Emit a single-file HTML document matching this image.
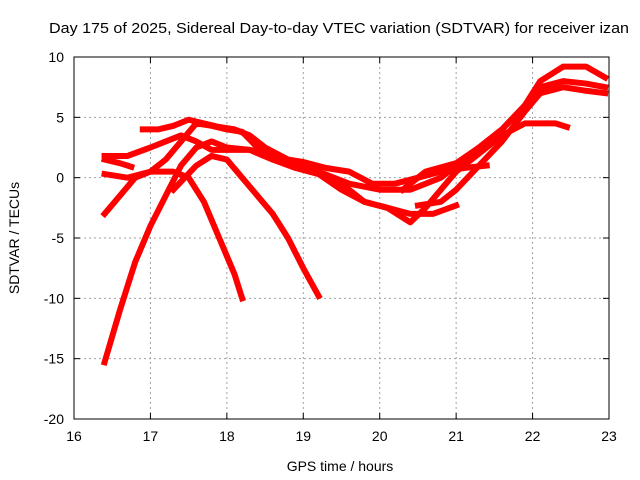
<!DOCTYPE html>
<html><head><meta charset="utf-8"><style>body{margin:0;background:#fff}svg{display:block;font-family:"Liberation Sans",sans-serif}</style></head>
<body>
<svg id="c" width="640" height="480" xmlns="http://www.w3.org/2000/svg">
<rect width="640" height="480" fill="#fff"/>
<text x="339" y="33" font-size="15" text-anchor="middle" textLength="580" lengthAdjust="spacingAndGlyphs">Day 175 of 2025, Sidereal Day-to-day VTEC variation (SDTVAR) for receiver izan</text>
<text x="340" y="471" font-size="14" text-anchor="middle">GPS time / hours</text>
<text transform="translate(19,238) rotate(-90)" font-size="14" text-anchor="middle">SDTVAR / TECUs</text>
<g id="grid"></g><g id="ticks"></g><g id="series"></g>
<rect x="74" y="57" width="535" height="362" fill="none" stroke="#000"/>
</svg>
<script>
const xTicks=[16,17,18,19,20,21,22,23];
const yTicks=[-20,-15,-10,-5,0,5,10];
const s1=[[16.4,-15.3],[16.6,-11],[16.8,-7],[17.0,-4],[17.2,-1.5],[17.4,1],[17.6,2.5],[17.8,3],[18.0,2.5],[18.3,2.3],[18.6,2],[18.9,1],[19.2,0.5],[19.6,-0.5],[20.0,-1],[20.4,-1],[20.8,0],[21.0,1],[21.3,2.5],[21.6,4],[21.9,6],[22.1,8],[22.4,9.2],[22.7,9.2],[22.95,8.3]];
const s2=[[16.4,-3],[16.6,-1.5],[16.8,0],[17.0,0.5],[17.3,0.5],[17.5,0],[17.7,-2],[17.9,-5],[18.1,-8],[18.2,-10]];
const s3=[[16.4,0.3],[16.7,0],[17.0,0.5],[17.2,1.5],[17.4,3],[17.6,4.5],[17.8,4.3],[18.0,4],[18.2,3.8],[18.4,2.5],[18.6,1.5],[18.9,0.8],[19.2,0.3],[19.5,-1],[19.8,-2],[20.1,-2.5],[20.4,-3],[20.7,-3],[21.0,-2.3]];
const s4=[[16.4,1.5],[16.6,1.2],[16.75,0.9]];
const s5=[[16.4,1.8],[16.7,1.8],[17.0,2.5],[17.2,3],[17.4,3.5],[17.6,3],[17.8,2.3],[18.0,2.3],[18.3,2.3],[18.6,1.5],[18.9,1],[19.2,0.3],[19.5,-0.5],[19.8,-2],[20.1,-2.5],[20.4,-3.7],[20.6,-2.5],[20.8,-1],[21.0,0.5],[21.3,2],[21.6,3.5],[21.9,4.5],[22.1,4.5],[22.3,4.5],[22.45,4.2]];
const s6=[[16.9,4],[17.1,4],[17.3,4.3],[17.5,4.8],[17.7,4.5],[17.9,4.2],[18.1,4],[18.3,3.5],[18.5,2.5],[18.8,1.5],[19.0,1.3],[19.3,0.8],[19.6,0.5],[19.9,-0.5],[20.2,-0.5],[20.5,0],[20.8,0.5],[21.1,0.8],[21.4,1]];
const s7=[[17.3,-1],[17.6,1],[17.8,1.8],[18.0,1.5],[18.2,0],[18.4,-1.5],[18.6,-3],[18.8,-5],[19.0,-7.5],[19.2,-9.8]];
const s8=[[20.5,-2.3],[20.8,-2],[21.0,-1],[21.3,1],[21.6,3],[21.9,5.5],[22.1,7],[22.4,7.5],[22.7,7.2],[22.95,7]];
const s9=[[20.3,-1],[20.6,0.5],[21.0,1.2],[21.3,2.5],[21.6,4],[21.9,6],[22.1,7.5],[22.4,8],[22.7,7.8],[22.95,7.5]];
const seriesList=[s1,s2,s3,s4,s5,s6,s7,s8,s9];
const X=h=>74+(h-16)*535/7, Y=v=>57+(10-v)*362/30;
const NS="http://www.w3.org/2000/svg";
function mk(t,a,p){const e=document.createElementNS(NS,t);for(const k in a)e.setAttribute(k,a[k]);p.appendChild(e);return e;}
const g=document.getElementById('grid'),tk=document.getElementById('ticks'),sg=document.getElementById('series');
xTicks.forEach(v=>{
 if(v>16&&v<23){const l=mk('line',{x1:X(v),x2:X(v),y1:57,y2:419,stroke:'#a0a0a0','stroke-dasharray':'2,3'},g);
 
 }
 mk('line',{x1:X(v),x2:X(v),y1:419,y2:413,stroke:'#000'},tk);mk('line',{x1:X(v),x2:X(v),y1:57,y2:63,stroke:'#000'},tk);
 const t=mk('text',{x:X(v),y:441,'font-size':14,'text-anchor':'middle'},tk);t.textContent=v;
 
 
});
yTicks.forEach(v=>{
 if(v>-20&&v<10){const l=mk('line',{x1:74,x2:609,y1:Y(v),y2:Y(v),stroke:'#a0a0a0','stroke-dasharray':'2,3'},g);
 
 }
 mk('line',{x1:74,x2:80,y1:Y(v),y2:Y(v),stroke:'#000'},tk);mk('line',{x1:603,x2:609,y1:Y(v),y2:Y(v),stroke:'#000'},tk);
 const t=mk('text',{x:64,y:Y(v)+5,'font-size':14,'text-anchor':'end'},tk);t.textContent=v;
 
 
});
seriesList.forEach((s,i)=>{
 const p=mk('polyline',{points:s.map(d=>X(d[0])+','+Y(d[1])).join(' '),fill:'none',stroke:'#ff0000','stroke-width':6,'stroke-linejoin':'round','stroke-linecap':'square'},sg);
 
 
});
</script>
</body></html>
